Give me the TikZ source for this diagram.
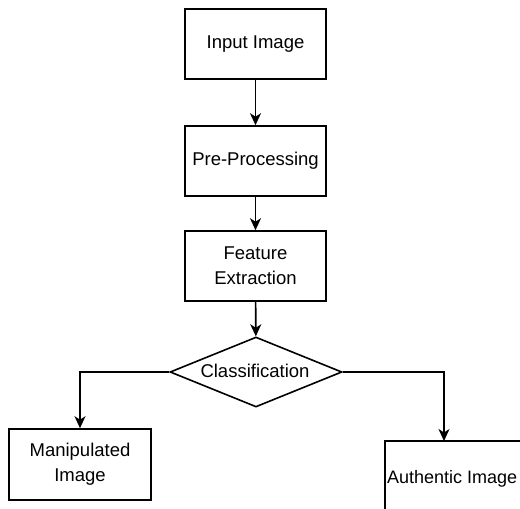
\documentclass[tikz,border=0pt]{standalone}
\usepackage{fontspec}
\setmainfont{Liberation Sans}
\usetikzlibrary{shapes.geometric,arrows.meta}
\begin{document}
\begin{tikzpicture}[x=1pt,y=-1pt,
  lbl/.style={font=\fontsize{18.5}{25}\selectfont},
  box/.style={draw,line width=1.6pt,lbl,align=center,inner sep=0pt},
  arr/.style={line width=1.6pt,-{Stealth[length=12pt,width=11pt,inset=3.5pt]}}]
\useasboundingbox (0,0) rectangle (520,509);
\begin{scope}
\clip (0,0) rectangle (520,509);
\node[box,minimum width=141pt,minimum height=70pt] (inp) at (255.5,44) {Input Image};
\node[box,minimum width=141pt,minimum height=70pt] (pre) at (255.5,161) {Pre-Processing};
\node[box,minimum width=141pt,minimum height=70pt] (fea) at (255.5,266) {Feature\\Extraction};
\node[draw,line width=1.6pt,diamond,aspect=2.45,minimum width=172pt,minimum height=70pt,inner sep=0pt] (cls) at (256,372) {};
\node[lbl] (clst) at (255,371) {Classification};
\node[box,minimum width=142pt,minimum height=71pt] (man) at (80,464.5) {Manipulated\\Image};
\node[draw,line width=1.6pt,minimum width=200pt,minimum height=90pt,inner sep=0pt] (aut) at (485,486) {};
\node[font=\fontsize{18}{24}\selectfont,anchor=west,inner sep=0pt] (autt) at (387,479) {Authentic Image};
\coordinate (ml) at (80,372);
\coordinate (mr) at (444,372);
\coordinate (at) at (444,441);
\draw[arr] (inp) -- (pre);
\draw[arr] (pre) -- (fea);
\draw[arr] (fea) -- (cls);
\draw[arr] (cls.west) -- (ml) -- (man.north);
\draw[arr] (cls.east) -- (mr) -- (at);
\end{scope}
\end{tikzpicture}
\end{document}
